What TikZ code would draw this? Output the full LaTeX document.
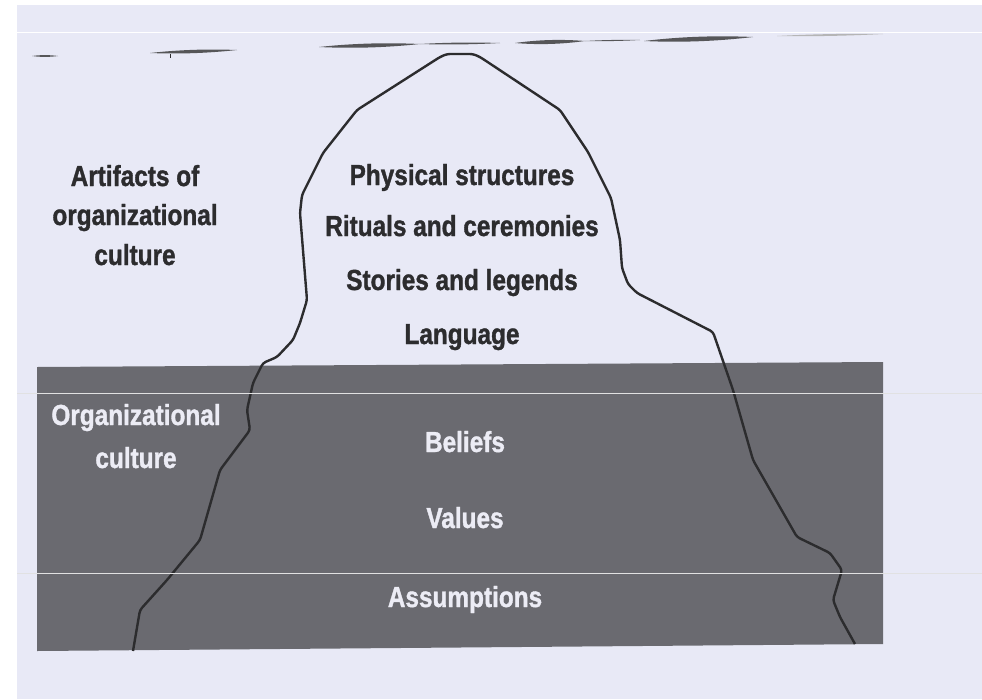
\documentclass[tikz,border=0pt]{standalone}
\usepackage{fontspec}
\setmainfont{Liberation Sans}[FakeStretch=0.84, BoldFeatures={FakeBold=1.2}]
\usepackage{tikz}
\usetikzlibrary{calc}
\definecolor{paper}{RGB}{232,233,246}
\definecolor{sea}{RGB}{106,106,112}
\definecolor{inkdark}{RGB}{44,44,46}
\definecolor{foam}{RGB}{236,236,245}
\tikzstyle{tiptext} = [
	font=\fontsize{29}{30}\selectfont\bfseries,
	text=inkdark,
	anchor=base,
	inner sep=0pt
]
\tikzstyle{deeptext} = [
	tiptext,
	text=foam
]
\tikzstyle{berg} = [line width=2.4pt, draw=inkdark, line join=round, rounded corners=3pt]
\tikzstyle{ripple} = [fill=inkdark!80]
\tikzstyle{scanline} = [draw=white, line width=1pt]
% tapered pencil stroke of the water line
\newcommand{\ripple}[5]{%
  \fill[ripple] (#1,#2)
    .. controls ($(#1,#2)!0.33!(#3,#4)+(0,-#5)$) and ($(#1,#2)!0.66!(#3,#4)+(0,-#5)$) .. (#3,#4)
    .. controls ($(#1,#2)!0.66!(#3,#4)+(0,#5)$) and ($(#1,#2)!0.33!(#3,#4)+(0,#5)$) .. cycle;}

\begin{document}
\begin{tikzpicture}[x=1pt, y=-1pt]
        \useasboundingbox (0,0) rectangle (982,699);
        \fill[white] (0,0) rectangle (982,699);
        \fill[paper] (17,5) rectangle (982,699);
        % water line
        \ripple{32}{56}{58}{56}{1.2}
        \ripple{150}{53}{237}{50}{2.2}
        \draw[inkdark, line width=1pt] (170,54) -- (170,58);
        \ripple{319}{47}{420}{44}{2.6}
        \ripple{420}{44}{500}{43}{1.2}
        \ripple{515}{43}{585}{41}{2.6}
        \ripple{585}{41}{640}{40}{0.7}
        \ripple{644}{41}{753}{37}{3}
        \begin{scope}[ripple/.style={fill=inkdark!35}]
          \ripple{777}{36}{883}{34}{1.2}
        \end{scope}
        % below the surface
        \fill[sea] (37,367) -- (883,362) -- (883,644) -- (37,651) -- cycle;
        % iceberg outline
        \draw[berg] (133,651) -- (140,610) -- (167,580) -- (200,540) -- (220,470)
          -- (250,430) -- (247,410) -- (253,383) -- (263,363) -- (277,357)
          -- (293,340) -- (300,323) -- (307,300) -- (300,213) -- (302,195)
          -- (323,153) -- (357,110) -- (440,57) -- (447,54) -- (473,54)
          -- (480,57) -- (560,110) -- (588,152) -- (611,198) -- (620,240)
          -- (622,268) -- (628,284) -- (637,293) -- (713,332) -- (733,390)
          -- (753,460) -- (797,537) -- (830,553) -- (842,570) -- (833,600)
          -- (840,617) -- (855,644);
        % scan streaks
        \draw[scanline] (17,32) -- (982,32);
        \draw[scanline, white!80!sea] (17,393) -- (982,393);
        \draw[scanline, white!80!sea] (17,573) -- (982,573);
        % visible part
        \node (artA) [tiptext] at (135,186) {Artifacts of};
        \node (artB) [tiptext] at (135,225) {organizational};
        \node (artC) [tiptext] at (135,265) {culture};
        \node (phys) [tiptext] at (462,185) {Physical structures};
        \node (rit) [tiptext] at (462,236) {Rituals and ceremonies};
        \node (story) [tiptext] at (462,290) {Stories and legends};
        \node (lang) [tiptext] at (462,344) {Language};
        % hidden part
        \node (orgA) [deeptext] at (136,425) {Organizational};
        \node (orgB) [deeptext] at (136,468) {culture};
        \node (belief) [deeptext] at (465,452) {Beliefs};
        \node (value) [deeptext] at (465,528) {Values};
        \node (assume) [deeptext] at (465,607) {Assumptions};
      \end{tikzpicture}
\end{document}
